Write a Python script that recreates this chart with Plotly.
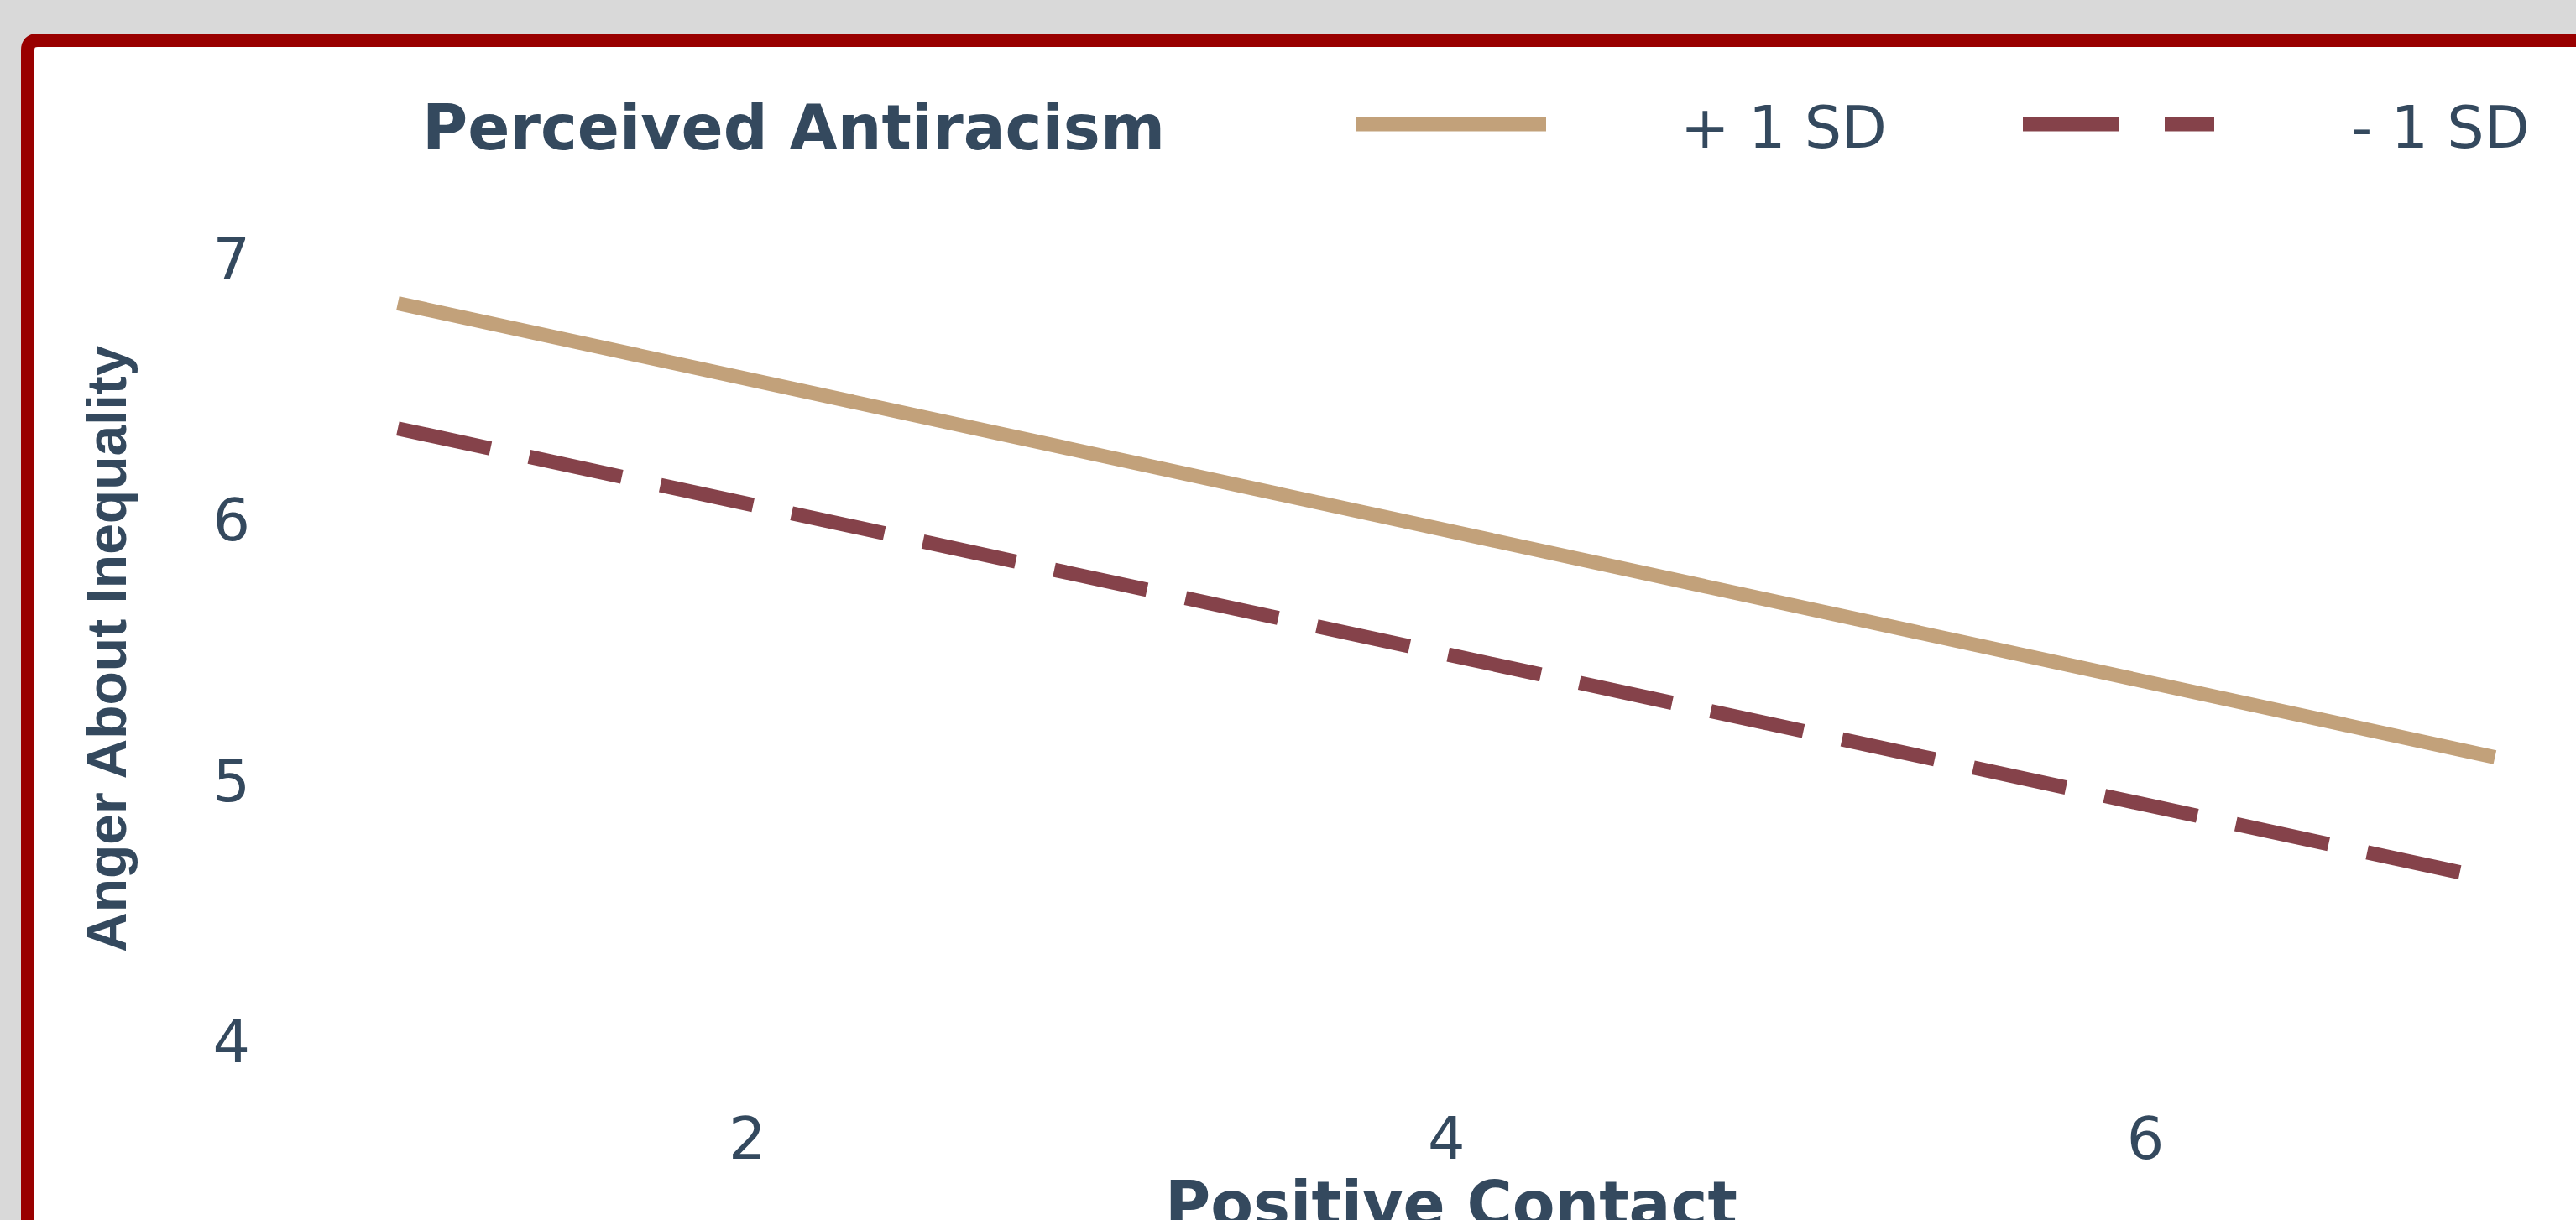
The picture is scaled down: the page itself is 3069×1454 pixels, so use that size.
import plotly.graph_objects as go

# data
positive_contact = [1, 7]
plus_1sd = [6.83, 5.09]
minus_1sd = [6.35, 4.62]
x_ticks = [2, 4, 6]
y_ticks = [4, 5, 6, 7]

COLORS = {
    'bg': '#d9d9d9',
    'frame': '#990000',
    'text': '#34495e',
    'plus': '#c2a17a',
    'minus': '#85424a',
}

W, H = 3069, 1454
M = dict(l=349, r=0, t=262, b=166)
FONT = "DejaVu Sans, Liberation Sans, Arial, sans-serif"
FONT_NARROW = "Liberation Sans, Arial, sans-serif"


def px_x(px):
    return (px - M['l']) / (W - M['l'] - M['r'])


def px_y(py):
    return 1 - (py - M['t']) / (H - M['t'] - M['b'])


fig = go.Figure()
fig.add_trace(go.Scatter(
    x=positive_contact, y=plus_1sd, mode='lines', name='+ 1 SD',
    line=dict(color=COLORS['plus'], width=17),
))
fig.add_trace(go.Scatter(
    x=positive_contact, y=minus_1sd, mode='lines', name='- 1 SD',
    line=dict(color=COLORS['minus'], width=17, dash='113px,47px'),
))

# white panel with dark red frame (runs off the right and bottom edges)
x0, y0, x1, y1 = px_x(33), px_y(48), px_x(3200), px_y(1600)
rx, ry = 12 / (W - M['l']), 12 / (H - M['t'] - M['b'])
fig.add_shape(
    type='path', xref='paper', yref='paper', layer='below',
    path=f"M {x0},{y1} L {x0},{y0 - ry} Q {x0},{y0} {x0 + rx},{y0} "
         f"L {x1},{y0} L {x1},{y1} Z",
    fillcolor='white', line=dict(color=COLORS['frame'], width=16),
)

# hand-built legend (long key samples like the original)
fig.add_shape(type='line', xref='paper', yref='paper',
              x0=px_x(1615), x1=px_x(1842), y0=px_y(148), y1=px_y(148),
              line=dict(color=COLORS['plus'], width=17))
fig.add_shape(type='line', xref='paper', yref='paper',
              x0=px_x(2410), x1=px_x(2524), y0=px_y(148), y1=px_y(148),
              line=dict(color=COLORS['minus'], width=17))
fig.add_shape(type='line', xref='paper', yref='paper',
              x0=px_x(2579), x1=px_x(2638), y0=px_y(148), y1=px_y(148),
              line=dict(color=COLORS['minus'], width=17))

legend_text = [
    ('<b>Perceived Antiracism</b>', 945, 74),
    ('+ 1 SD', 2125, 70),
    ('- 1 SD', 2907, 70),
]
for txt, cx, size in legend_text:
    fig.add_annotation(text=txt, xref='paper', yref='paper', x=px_x(cx), y=px_y(152),
                       xanchor='center', yanchor='middle', showarrow=False,
                       font=dict(size=size, color=COLORS['text'], family=FONT))

# axis titles
fig.add_annotation(text='<b>Positive Contact</b>', xref='paper', yref='paper',
                   x=px_x(1729), y=px_y(1390), xanchor='center', yanchor='top',
                   showarrow=False, font=dict(size=74, color=COLORS['text'], family=FONT))
fig.add_annotation(text='<b>Anger About Inequality</b>', xref='paper', yref='paper',
                   x=px_x(127), y=px_y(773), xanchor='center', yanchor='middle',
                   textangle=-90, showarrow=False,
                   font=dict(size=66, color=COLORS['text'], family=FONT_NARROW))

fig.update_layout(
    template='none',
    width=W, height=H,
    margin=dict(**M, pad=0),
    paper_bgcolor=COLORS['bg'],
    plot_bgcolor='rgba(0,0,0,0)',
    showlegend=False,
    font=dict(family=FONT, color=COLORS['text'], size=70),
)
fig.update_xaxes(range=[0.7, 7.232], tickvals=x_ticks, showgrid=False, zeroline=False,
                 showline=False, ticks='', automargin=False, ticklabelstandoff=22,
                 tickfont=dict(size=70, color=COLORS['text']))
fig.update_yaxes(range=[3.85, 7.15], tickvals=y_ticks, showgrid=False, zeroline=False,
                 showline=False, ticks='', automargin=False, ticklabelstandoff=50,
                 tickfont=dict(size=70, color=COLORS['text']))

fig.write_html("out.html", config={'displayModeBar': False},
               post_script="document.body.style.margin='0';")
